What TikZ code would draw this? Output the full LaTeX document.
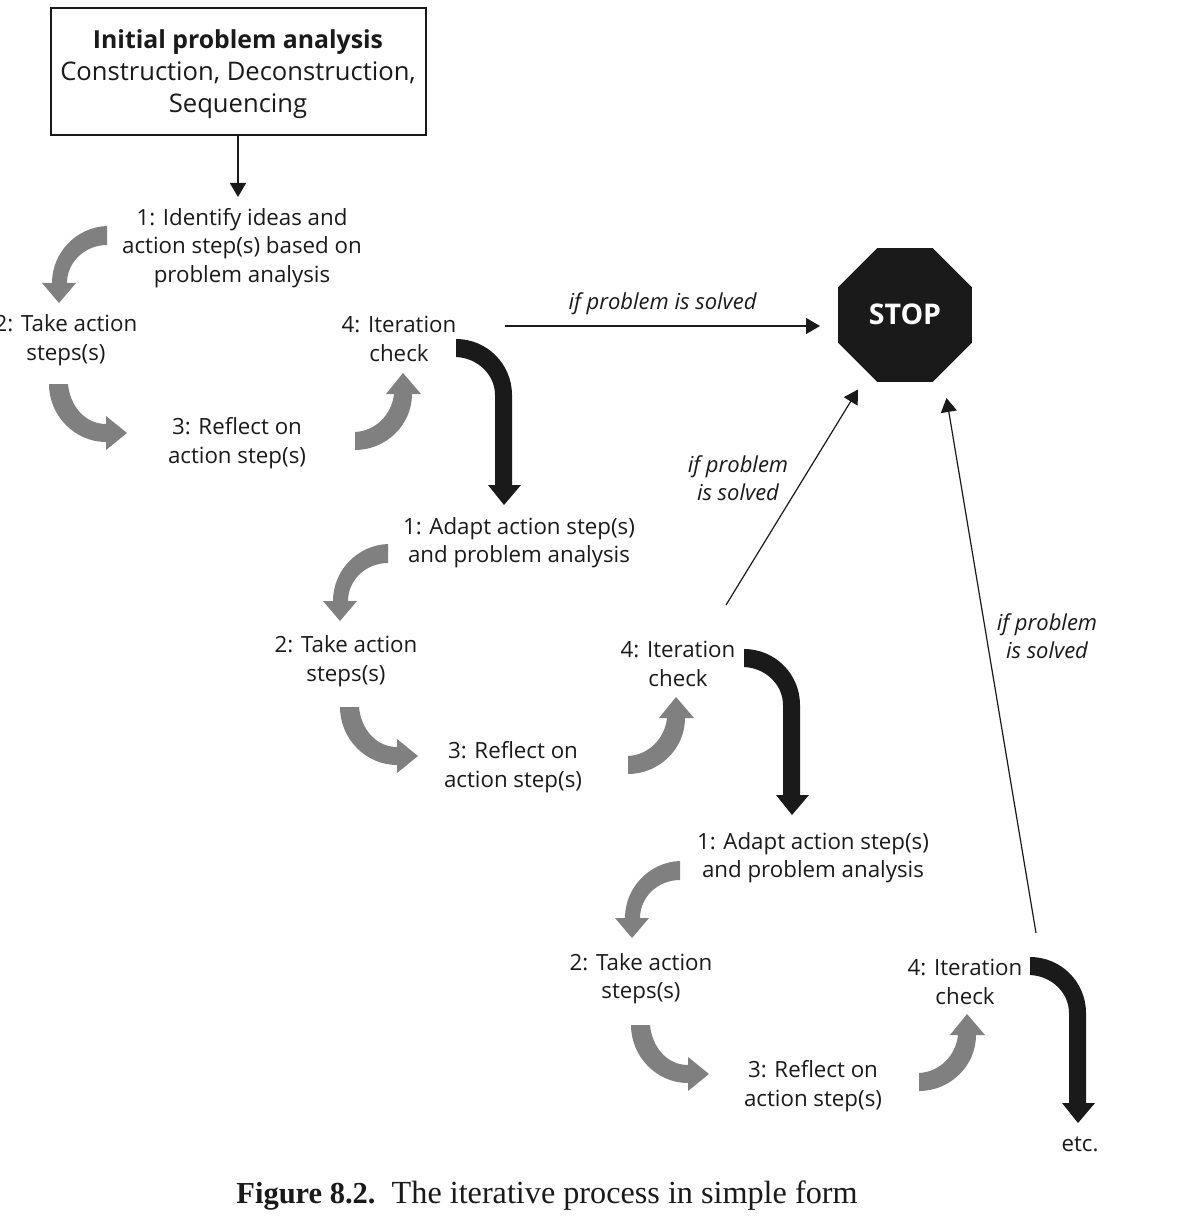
\documentclass[tikz,border=0pt]{standalone}
\usepackage{fontspec}
\usetikzlibrary{arrows.meta,shapes.geometric}
\setmainfont{Open Sans}
\newfontfamily\capfont{Liberation Serif}
\tikzset{
  every node/.style={inner sep=0pt,outer sep=0pt},
  lbl/.style={align=center,text=ink,font=\fontsize{22.3}{28.5}\selectfont},
  cond/.style={align=center,text=ink,font=\fontsize{22}{28}\selectfont\itshape},
  conn/.style={draw=ink,line width=1.2pt,-{Triangle[length=14pt,width=16pt]}},
  grayarrow/.style={fill=arrowgray},
  blackarrow/.style={fill=ink},
  arrowone/.pic={\fill[grayarrow] (107,226) .. controls (77,227) and (52,252) .. (52,283) -- (42,283) -- (59,303) -- (76,283) -- (67,283) .. controls (67,262) and (85,245) .. (107,245) -- cycle;},
  arrowtwo/.pic={\fill[grayarrow] (49,384) .. controls (49,416) and (75,442) .. (106,442) -- (106,450) -- (127,433) -- (106,416) -- (106,424) .. controls (85,424) and (70,406) .. (68,384) -- cycle;},
  arrowthree/.pic={\fill[grayarrow] (355,432) .. controls (376,431) and (392,414) .. (394,394) -- (386,394) -- (403,373) -- (421,394) -- (412,394) .. controls (412,425) and (386,450) .. (355,450) -- cycle;},
  arrowfour/.pic={\fill[blackarrow] (456,339) .. controls (487,339) and (512,364) .. (512,395) -- (512,485) -- (521,485) -- (504,505) -- (488,485) -- (495,485) -- (495,395) .. controls (495,375) and (478,358) .. (456,357) -- cycle;},
}
\definecolor{ink}{HTML}{1A1A1A}
\definecolor{arrowgray}{HTML}{808080}
\begin{document}
\begin{tikzpicture}[x=1pt,y=-1pt]
\useasboundingbox (0,0) rectangle (1184,1222);
\fill[white] (0,0) rectangle (1184,1222);
% box
\node[draw=ink,line width=1.2pt,minimum width=375pt,minimum height=127pt] (box) at (238.5,71.5) {};
\node[align=center,text=ink,font=\fontsize{25.6}{32}\selectfont] (boxtext) at (238,74) {{\fontsize{24.8}{32}\selectfont\bfseries Initial problem analysis}\\Construction, Deconstruction,\\Sequencing};
% first cycle
\node[lbl] (a1) at (242,248) {1: Identify ideas and\\action step(s) based on\\problem analysis};
\node[lbl] (a2) at (66,340) {2: Take action\\steps(s)};
\node[lbl] (a3) at (237,443) {3: Reflect on\\action step(s)};
\node[lbl] (a4) at (399,339) {4: Iteration\\check};
\pic at (0,0) {arrowone};
\pic at (0,0) {arrowtwo};
\pic at (0,0) {arrowthree};
\pic at (0,0) {arrowfour};
% second cycle
\node[lbl] (b1) at (519,542.5) {1: Adapt action step(s)\\and problem analysis};
\node[lbl] (b2) at (346,661) {2: Take action\\steps(s)};
\node[lbl] (b3) at (513,767) {3: Reflect on\\action step(s)};
\node[lbl] (b4) at (678,664) {4: Iteration\\check};
\pic at (281,318) {arrowone};
\pic at (291,323) {arrowtwo};
\pic at (273,324) {arrowthree};
\pic at (288,310) {arrowfour};
% third cycle
\node[lbl] (c1) at (813,857.5) {1: Adapt action step(s)\\and problem analysis};
\node[lbl] (c2) at (641,978.5) {2: Take action\\steps(s)};
\node[lbl] (c3) at (813,1086) {3: Reflect on\\action step(s)};
\node[lbl] (c4) at (965,982) {4: Iteration\\check};
\pic at (573,635) {arrowone};
\pic at (582,641) {arrowtwo};
\pic at (564,641) {arrowthree};
\pic at (574,618) {arrowfour};
\node[lbl] (etc) at (1080,1144) {etc.};
% stop
\node[regular polygon,regular polygon sides=8,fill=ink,minimum size=145pt,text=white,font=\fontsize{28.5}{32}\selectfont\bfseries] (stop) at (905,315) {\raisebox{1pt}{STOP}};
% connectors
\coordinate (s1) at (238,135);
\coordinate (e1) at (238,197);
\draw[conn] (s1) -- (e1);
\coordinate (s2) at (505,326);
\coordinate (e2) at (820,326);
\draw[conn] (s2) -- node[cond,above=11pt] (l2) {if problem is solved} (e2);
\coordinate (s3) at (726,605);
\coordinate (e3) at (858,389.5);
\draw[conn] (s3) -- (e3);
\coordinate (s4) at (1036,933);
\coordinate (e4) at (946.5,398);
\draw[conn] (s4) -- (e4);
\node[cond] (l3) at (738,478) {if problem\\is solved};
\node[cond] (l4) at (1047,636) {if problem\\is solved};
% caption
\node[text=ink,font=\capfont\fontsize{32.2}{36}\selectfont] (cap) at (547,1195.5) {{\fontsize{30.5}{36}\selectfont\bfseries Figure 8.2.}\ \ The iterative process in simple form};
\end{tikzpicture}
\end{document}
